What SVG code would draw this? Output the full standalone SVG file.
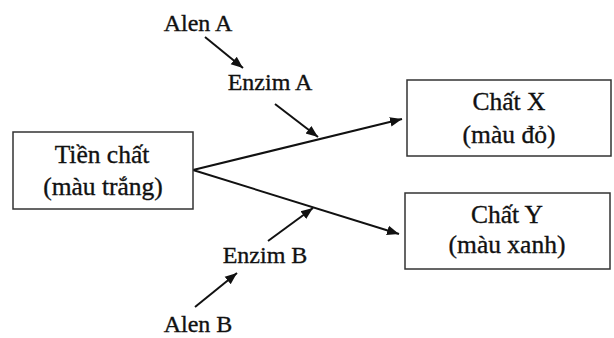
<svg xmlns="http://www.w3.org/2000/svg" width="614" height="338" viewBox="0 0 614 338">
<style>
text{font-family:'Liberation Serif','Times New Roman',serif;font-size:24px;fill:#111;stroke:#111;stroke-width:0.35;text-anchor:middle}
.bt{font-size:25.5px}
.box{fill:#fff;stroke:#333;stroke-width:1.5}
.ln{stroke:#111;stroke-width:2;fill:none;marker-end:url(#ah)}
</style>
<defs>
<marker id="ah" viewBox="0 0 10 10" refX="10" refY="5" markerWidth="6" markerHeight="6" markerUnits="strokeWidth" orient="auto">
<path d="M0,1 L10,5 L0,9 Z" fill="#111"/>
</marker>
</defs>
<rect width="614" height="338" fill="#fff"/>
<g id="connectors">
<line class="ln" x1="193" y1="170" x2="402" y2="119"/>
<line class="ln" x1="193" y1="170" x2="399" y2="234"/>
<line class="ln" x1="205" y1="37" x2="243" y2="68"/>
<line class="ln" x1="275" y1="104" x2="318" y2="137"/>
<line class="ln" x1="195" y1="307" x2="237" y2="273"/>
<line class="ln" x1="268" y1="241" x2="313" y2="208"/>
</g>
<g id="tien-chat"><rect class="box" x="13" y="132" width="180" height="77"/><text class="bt" x="102" y="163">Tiền chất</text><text class="bt" x="103" y="195">(màu trắng)</text></g>
<g id="chat-x"><rect class="box" x="407" y="80" width="204" height="76"/><text class="bt" x="509" y="110">Chất X</text><text class="bt" x="509" y="143">(màu đỏ)</text></g>
<g id="chat-y"><rect class="box" x="405" y="193" width="205" height="76"/><text class="bt" x="507" y="223">Chất Y</text><text class="bt" x="507" y="253">(màu xanh)</text></g>
<g id="alen-a"><text x="198" y="31">Alen A</text></g>
<g id="enzim-a"><text x="270" y="90">Enzim A</text></g>
<g id="enzim-b"><text x="265" y="263">Enzim B</text></g>
<g id="alen-b"><text x="198" y="332">Alen B</text></g>
</svg>
